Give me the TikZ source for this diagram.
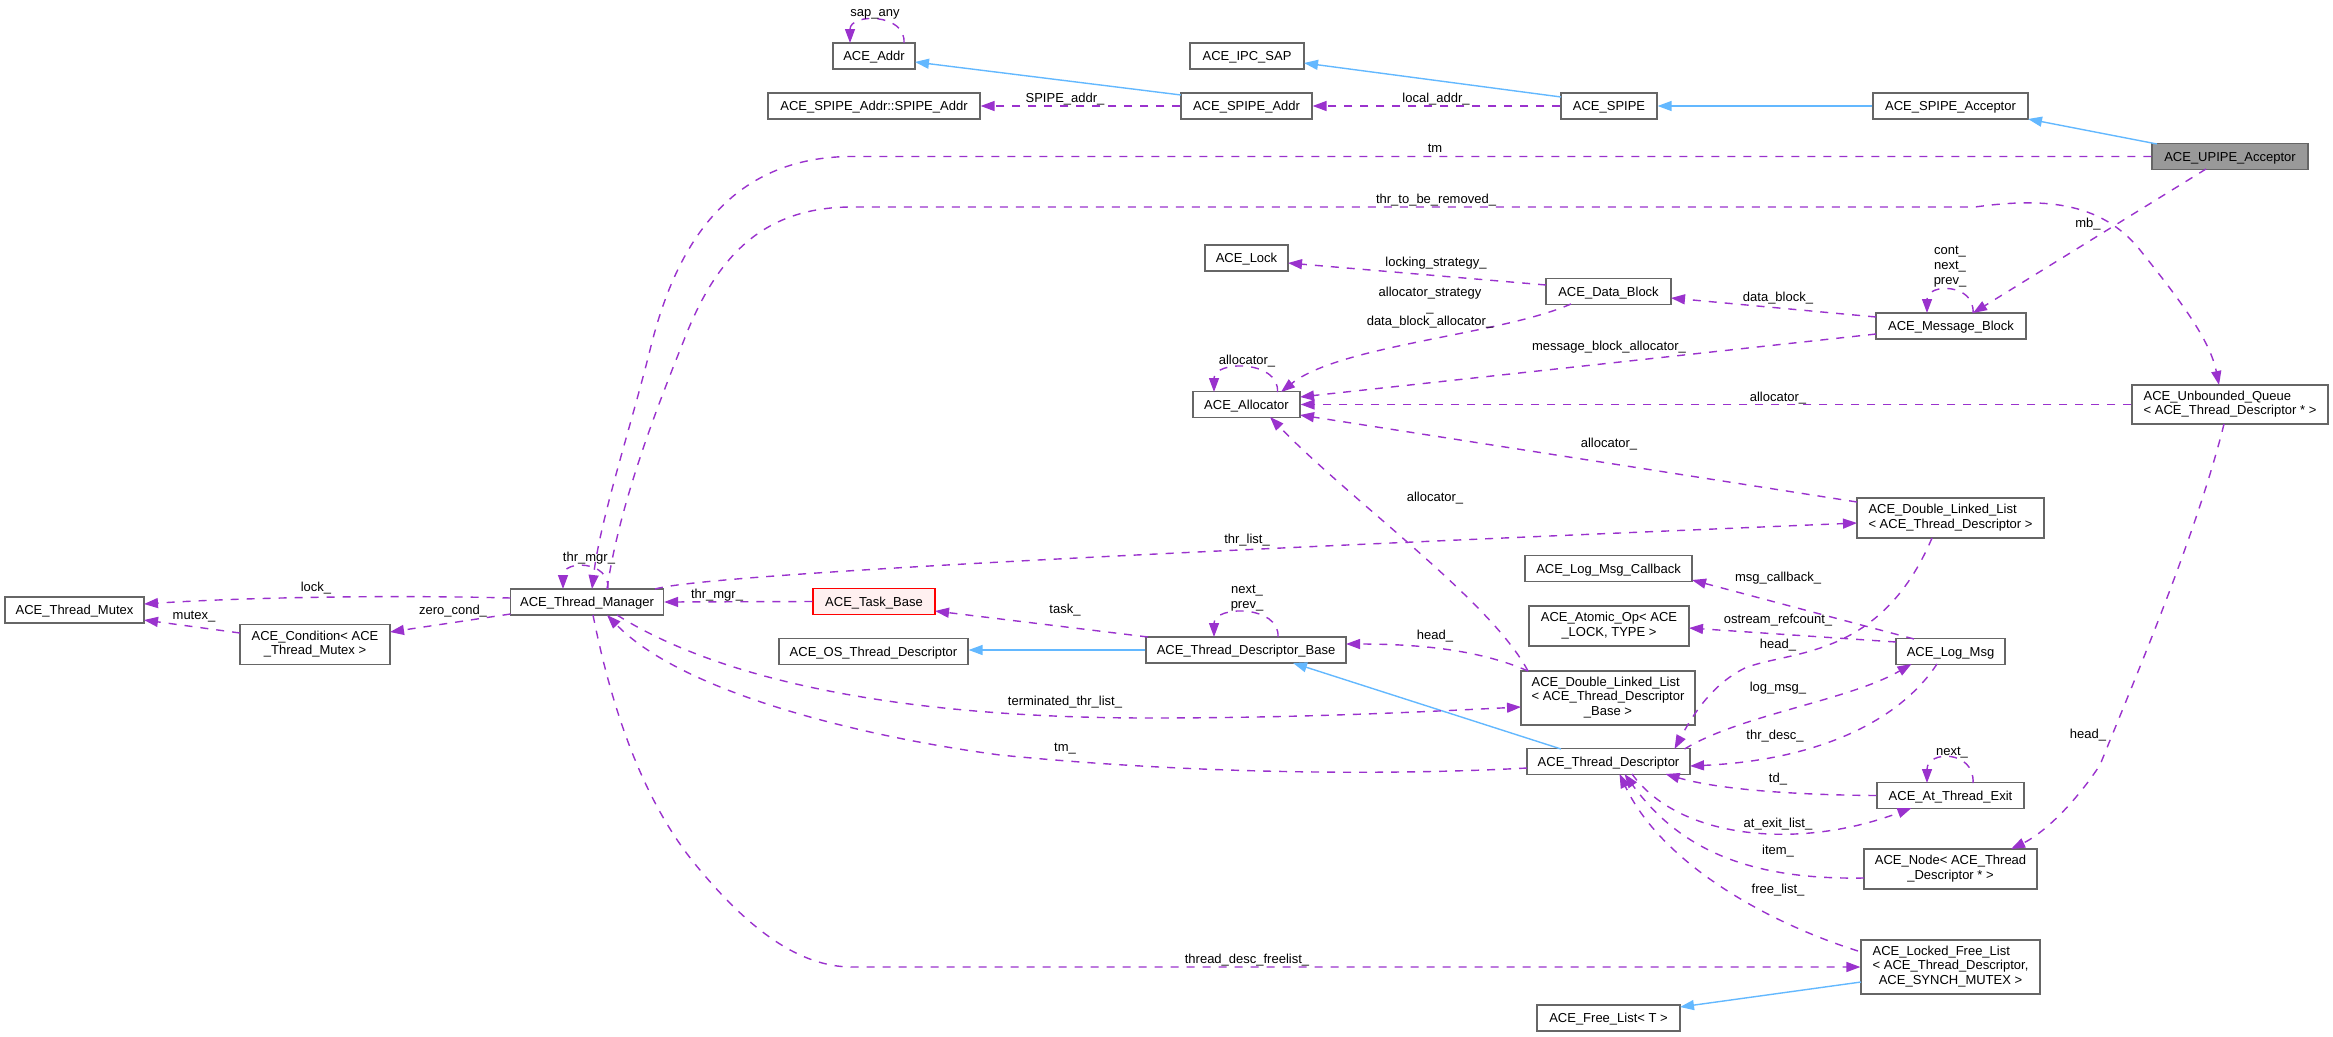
\documentclass[tikz,border=0pt]{standalone}
\usepackage{fontspec}
\setmainfont{Liberation Sans}
\usetikzlibrary{arrows.meta,calc}
\definecolor{usecol}{HTML}{9A32CD}
\definecolor{inhcol}{HTML}{63B8FF}
\definecolor{boxcol}{HTML}{666666}
\definecolor{focusfill}{HTML}{999999}
\definecolor{redfill}{HTML}{FFF0F0}
\begin{document}
\begin{tikzpicture}[x=1pt,y=-1pt,
  every node/.style={font=\fontsize{13}{14.7}\selectfont},
  cls/.style={draw=boxcol,fill=white,line width=1.2pt,inner sep=0pt,minimum height=26pt,text height=9.4pt,text depth=0pt},
  mcls/.style={draw=boxcol,fill=white,line width=1.2pt,inner sep=0pt},
  lbl/.style={inner sep=0pt,text height=9.4pt,text depth=0pt},
  mlbl/.style={inner sep=0pt,align=center},
  usearr/.style={draw=usecol,line width=1.4pt,dash pattern=on 8pt off 8pt,-{Triangle[length=14pt,width=10pt]}},
  inharr/.style={draw=inhcol,line width=1.4pt,-{Triangle[length=14pt,width=10pt]}}]
\useasboundingbox (0,0) rectangle (2333,1036);

% ---------- classes ----------
\node[cls,minimum width=82pt] (addr) at (874,56) {ACE\_Addr};
\node[cls,minimum width=114pt] (ipcsap) at (1247,56) {ACE\_IPC\_SAP};
\node[cls,minimum width=212pt] (spinner) at (874,106) {ACE\_SPIPE\_Addr::SPIPE\_Addr};
\node[cls,minimum width=131pt] (spaddr) at (1246.5,106) {ACE\_SPIPE\_Addr};
\node[cls,minimum width=96pt] (spipe) at (1609,106) {ACE\_SPIPE};
\node[cls,minimum width=155pt] (spacc) at (1950.5,106) {ACE\_SPIPE\_Acceptor};
\node[cls,minimum width=156pt,fill=focusfill] (upipe) at (2230,156.5) {ACE\_UPIPE\_Acceptor};
\node[cls,minimum width=83pt] (lock) at (1246.5,258) {ACE\_Lock};
\node[cls,minimum width=125pt] (datablk) at (1608.5,291.5) {ACE\_Data\_Block};
\node[cls,minimum width=150pt] (msgblk) at (1951,326) {ACE\_Message\_Block};
\node[cls,minimum width=107pt] (alloc) at (1246.5,404.5) {ACE\_Allocator};
\node[mcls,minimum width=196pt,minimum height=39pt] (uqueue) at (2230,404.5)
  {\begin{tabular}{@{}l@{}}ACE\_Unbounded\_Queue\\< ACE\_Thread\_Descriptor * >\end{tabular}};
\node[mcls,minimum width=187pt,minimum height=40pt] (dlltd) at (1950.5,518)
  {\begin{tabular}{@{}l@{}}ACE\_Double\_Linked\_List\\< ACE\_Thread\_Descriptor >\end{tabular}};
\node[cls,minimum width=167pt] (cb) at (1608.5,568.5) {ACE\_Log\_Msg\_Callback};
\node[mcls,minimum width=160pt,minimum height=40pt] (atomic) at (1609,626)
  {\begin{tabular}{@{}c@{}}ACE\_Atomic\_Op< ACE\\\_LOCK, TYPE >\end{tabular}};
\node[cls,minimum width=109pt] (logmsg) at (1950.5,651.5) {ACE\_Log\_Msg};
\node[mcls,minimum width=174pt,minimum height=54pt] (dlltdb) at (1608,698)
  {\begin{tabular}{@{}l@{}}ACE\_Double\_Linked\_List\\< ACE\_Thread\_Descriptor\\\multicolumn{1}{@{}c@{}}{\_Base >}\end{tabular}};
\node[cls,minimum width=163pt] (td) at (1608.5,761.5) {ACE\_Thread\_Descriptor};
\node[cls,minimum width=147pt] (atexit) at (1950.5,795.5) {ACE\_At\_Thread\_Exit};
\node[mcls,minimum width=173pt,minimum height=40pt] (acenode) at (1950.5,869)
  {\begin{tabular}{@{}c@{}}ACE\_Node< ACE\_Thread\\\_Descriptor * >\end{tabular}};
\node[mcls,minimum width=179pt,minimum height=54pt] (lfl) at (1950.5,967)
  {\begin{tabular}{@{}l@{}}ACE\_Locked\_Free\_List\\< ACE\_Thread\_Descriptor,\\\multicolumn{1}{@{}c@{}}{ACE\_SYNCH\_MUTEX >}\end{tabular}};
\node[cls,minimum width=143pt] (freelist) at (1608.5,1018) {ACE\_Free\_List< T >};
\node[cls,minimum width=122pt,draw=red,fill=redfill] (task) at (874,601.5) {ACE\_Task\_Base};
\node[cls,minimum width=189pt] (ostd) at (873.5,651.5) {ACE\_OS\_Thread\_Descriptor};
\node[cls,minimum width=200pt] (tdb) at (1246,650) {ACE\_Thread\_Descriptor\_Base};
\node[cls,minimum width=153pt] (thrmgr) at (587,602) {ACE\_Thread\_Manager};
\node[cls,minimum width=139pt] (mutex) at (74.5,610) {ACE\_Thread\_Mutex};
\node[mcls,minimum width=150pt,minimum height=40pt] (cond) at (315,644.5)
  {\begin{tabular}{@{}c@{}}ACE\_Condition< ACE\\\_Thread\_Mutex >\end{tabular}};

% ---------- inheritance ----------
\draw[inharr] ($(spaddr)+(-65.5,-11)$) -- ($(addr)+(41,6)$);
\draw[inharr] ($(spipe)+(-48,-9)$) -- ($(ipcsap)+(57,7)$);
\draw[inharr] (spacc.west) -- (spipe.east);
\draw[inharr] ($(upipe)+(-73,-12.5)$) -- ($(spacc)+(77.5,13)$);
\draw[inharr] (tdb.west) -- (tdb.west -| ostd.east);
\draw[inharr] ($(td)+(-47.5,-12.5)$) -- ($(tdb)+(47,13)$);
\draw[inharr] ($(lfl)+(-89.5,15)$) -- ($(freelist)+(71.5,-11)$);

% ---------- usage ----------
\draw[usearr] ($(addr)+(30,-13)$) .. controls +(2,-30) and +(0,-30) .. ($(addr)+(-24,-13)$);
\draw[usearr] (spaddr.west) -- (spinner.east);
\draw[usearr] (spipe.west) -- (spaddr.east);
\draw[usearr] (upipe.west) -- (852,156.5) .. controls (720,156.5) and (672,260) .. (650,350)
  .. controls (630,430) and (600,520) .. ($(thrmgr)+(5,-13)$);
\draw[usearr] ($(thrmgr)+(20,-13)$) .. controls (620,500) and (660,400) .. (684,340)
  .. controls (715,260) and (760,207) .. (852,207) -- (1975,207)
  .. controls (2040,198) and (2100,200) .. (2140,250)
  .. controls (2180,300) and (2210,340) .. ($(uqueue)+(-11,-19.5)$);
\draw[usearr] ($(datablk)+(-62.5,-6.5)$) -- ($(lock)+(41.5,5)$);
\draw[usearr] ($(upipe)+(-24,12.5)$) -- ($(msgblk)+(22,-13)$);
\draw[usearr] ($(msgblk)+(22,-13)$) .. controls +(2,-30) and +(0,-30) .. ($(msgblk)+(-24,-13)$);
\draw[usearr] ($(msgblk)+(-75,-9)$) -- ($(datablk)+(62.5,6.5)$);
\draw[usearr] ($(datablk)+(-37.5,12.5)$) .. controls (1500,335) and (1340,345) .. ($(alloc)+(34.5,-12.5)$);
\draw[usearr] ($(alloc)+(31,-12.5)$) .. controls +(2,-32) and +(0,-32) .. ($(alloc)+(-32.5,-12.5)$);
\draw[usearr] ($(msgblk)+(-75,8)$) -- ($(alloc)+(53.5,-7.5)$);
\draw[usearr] (uqueue.west) -- (alloc.east);
\draw[usearr] ($(dlltd)+(-93.5,-16)$) -- ($(alloc)+(53.5,10.5)$);
\draw[usearr] ($(dlltdb)+(-80,-27)$) .. controls (1490,600) and (1350,500) .. ($(alloc)+(23.5,12.5)$);
\draw[usearr] ($(thrmgr)+(68,-13)$) .. controls (720,570) and (1500,538) .. ($(dlltd)+(-93.5,5)$);
\draw[usearr] ($(thrmgr)+(-76.5,-4)$) .. controls (400,595) and (250,597) .. ($(mutex)+(69.5,-6)$);
\draw[usearr] ($(thrmgr)+(-76.5,12)$) -- ($(cond)+(75,-12.5)$);
\draw[usearr] ($(cond)+(-75,-11.5)$) -- ($(mutex)+(69.5,10)$);
\draw[usearr] ($(thrmgr)+(21,-13)$) .. controls +(2,-29) and +(0,-29) .. ($(thrmgr)+(-24,-13)$);
\draw[usearr] (task.west) -- (thrmgr.east);
\draw[usearr] ($(tdb)+(-98,-13)$) -- ($(task)+(61,9.5)$);
\draw[usearr] ($(tdb)+(32,-13)$) .. controls +(2,-32) and +(0,-32) .. ($(tdb)+(-32,-13)$);
\draw[usearr] ($(dlltdb)+(-80,-27)$) .. controls (1480,650) and (1420,644) .. ($(tdb)+(100,-6)$);
\draw[usearr] ($(thrmgr)+(30,13)$) .. controls (720,680) and (900,718) .. (1150,718)
  .. controls (1300,718) and (1420,712) .. ($(dlltdb)+(-87,9)$);
\draw[usearr] ($(td)+(-81.5,6.5)$) .. controls (1400,775) and (1200,775) .. (1000,755)
  .. controls (850,735) and (680,690) .. ($(thrmgr)+(20,13)$);
\draw[usearr] ($(thrmgr)+(6,13)$) .. controls (610,700) and (640,800) .. (700,870)
  .. controls (750,930) and (800,967) .. (852,967) -- (lfl.west);
\draw[usearr] ($(dlltd)+(-18.5,20)$) .. controls (1880,660) and (1790,650) .. (1745,668)
  .. controls (1710,685) and (1690,720) .. ($(td)+(66,-12.5)$);
\draw[usearr] ($(td)+(76,-12.5)$) .. controls (1740,715) and (1850,700) .. ($(logmsg)+(-39,12.5)$);
\draw[usearr] ($(logmsg)+(-13.5,12.5)$) .. controls (1900,720) and (1820,760) .. ($(td)+(81.5,4.5)$);
\draw[usearr] ($(logmsg)+(-36.5,-12.5)$) -- ($(cb)+(83.5,11.5)$);
\draw[usearr] ($(logmsg)+(-54.5,-9.5)$) -- ($(atomic)+(80,2)$);
\draw[usearr] (atexit.west) .. controls (1800,795) and (1720,790) .. ($(td)+(57,12.5)$);
\draw[usearr] ($(atexit)+(22.5,-12.5)$) .. controls +(2,-33) and +(0,-33) .. ($(atexit)+(-23.5,-12.5)$);
\draw[usearr] ($(td)+(23.5,12.5)$) .. controls (1680,840) and (1800,850) .. ($(atexit)+(-39,12.5)$);
\draw[usearr] ($(acenode)+(-86.5,9)$) .. controls (1750,880) and (1680,850) .. ($(td)+(16,12.5)$);
\draw[usearr] ($(lfl)+(-92.5,-16)$) .. controls (1760,920) and (1660,860) .. ($(td)+(11,12.5)$);
\draw[usearr] ($(uqueue)+(-6,19.5)$) .. controls (2195,540) and (2130,690) .. (2100,765)
  .. controls (2070,810) and (2040,835) .. ($(acenode)+(60.5,-20)$);

% ---------- labels ----------
\node[lbl] (l01) at (875,12) {sap\_any};
\node[lbl] (l02) at (1065,98) {SPIPE\_addr\_};
\node[lbl] (l03) at (1436,98) {local\_addr\_};
\node[lbl] (l04) at (1435,148) {tm};
\node[lbl] (l05) at (1436,199) {thr\_to\_be\_removed\_};
\node[lbl] (l06) at (1436,262) {locking\_strategy\_};
\node[mlbl] (l07) at (1430,307.7) {allocator\_strategy\\\_\\data\_block\_allocator\_};
\node[lbl] (l08) at (2088,223) {mb\_};
\node[mlbl] (l09) at (1950,266.7) {cont\_\\next\_\\prev\_};
\node[lbl] (l10) at (1778,297) {data\_block\_};
\node[lbl] (l11) at (1609,346) {message\_block\_allocator\_};
\node[lbl] (l12) at (1247,360) {allocator\_};
\node[lbl] (l13) at (1778,397) {allocator\_};
\node[lbl] (l14) at (1609,443) {allocator\_};
\node[lbl] (l15) at (1435,497) {allocator\_};
\node[lbl] (l16) at (1247,539) {thr\_list\_};
\node[lbl] (l17) at (589,557) {thr\_mgr\_};
\node[lbl] (l18) at (316,587) {lock\_};
\node[lbl] (l19) at (717,594) {thr\_mgr\_};
\node[mlbl] (l20) at (1247,598.2) {next\_\\prev\_};
\node[lbl] (l21) at (1065,609) {task\_};
\node[lbl] (l22) at (453,610) {zero\_cond\_};
\node[lbl] (l23) at (194,615) {mutex\_};
\node[lbl] (l24) at (1435,635) {head\_};
\node[lbl] (l25) at (1778,577) {msg\_callback\_};
\node[lbl] (l26) at (1778,619) {ostream\_refcount\_};
\node[lbl] (l27) at (1778,644) {head\_};
\node[lbl] (l28) at (1778,687) {log\_msg\_};
\node[lbl] (l29) at (1065,701) {terminated\_thr\_list\_};
\node[lbl] (l30) at (1775,735) {thr\_desc\_};
\node[lbl] (l31) at (2088,734) {head\_};
\node[lbl] (l32) at (1065,747) {tm\_};
\node[lbl] (l33) at (1952,751) {next\_};
\node[lbl] (l34) at (1778,778) {td\_};
\node[lbl] (l35) at (1778,823) {at\_exit\_list\_};
\node[lbl] (l36) at (1778,850) {item\_};
\node[lbl] (l37) at (1778,889) {free\_list\_};
\node[lbl] (l38) at (1247,959) {thread\_desc\_freelist\_};
\end{tikzpicture}
\end{document}
